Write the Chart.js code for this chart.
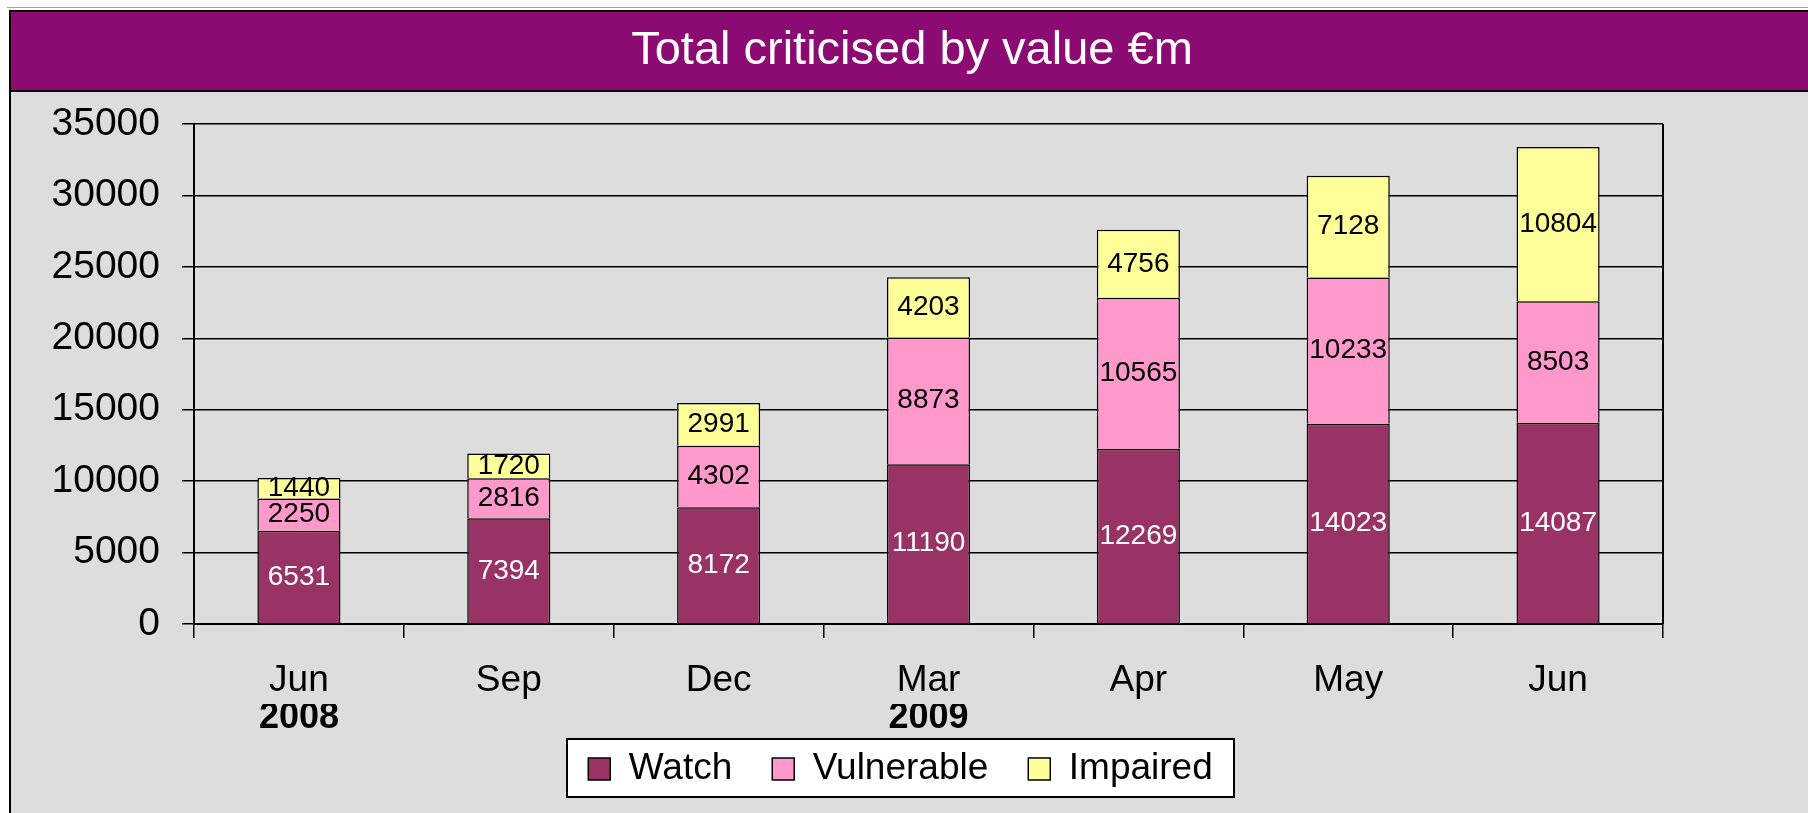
<!DOCTYPE html>
<html>
<head>
  <meta charset="UTF-8">
  <title>Total criticised by value €m</title>
  <script src="https://cdn.jsdelivr.net/npm/chart.js@4.4.0/dist/chart.umd.min.js"></script>
  <style>
    html, body { margin: 0; padding: 0; background: #fff; overflow: hidden; }
    canvas { display: block; }
  </style>
</head>
<body>
<canvas id="myChart" width="1808" height="813"></canvas>
<script>
  // values, EUR m
  var titleText = "Total criticised by value €m";
  var months = ["Jun", "Sep", "Dec", "Mar", "Apr", "May", "Jun"];
  var years = ["2008", "", "", "2009", "", "", ""];
  var watch = [6531, 7394, 8172, 11190, 12269, 14023, 14087];
  var vulnerable = [2250, 2816, 4302, 8873, 10565, 10233, 8503];
  var impaired = [1440, 1720, 2991, 4203, 4756, 7128, 10804];
  var yMin = 0, yMax = 35000, yStep = 5000;

  var FONT = "'Liberation Sans', Arial, sans-serif";
  var legendBox = { x: 567, y: 739, w: 667, h: 58 };

  Chart.defaults.font.family = FONT;
  Chart.defaults.color = "#000";

  // frame, purple header, title, legend box, value labels
  var framePlugin = {
    id: "frame",
    afterLayout: function(chart) {
      // put the legend inside its white box, with some slack so it stays on one row
      var lg = chart.legend;
      lg.left = legendBox.x - 25; lg.right = legendBox.x + legendBox.w + 25;
      lg.width = lg.right - lg.left;
      lg.top = 710.5; lg.bottom = 805; lg.height = lg.bottom - lg.top;
    },
    beforeDraw: function(chart) {
      var ctx = chart.ctx, w = chart.width, h = chart.height;
      ctx.save();
      ctx.fillStyle = "#fff";
      ctx.fillRect(0, 0, w, h);
      ctx.fillStyle = "#dddddd";
      ctx.fillRect(10, 11, w, h);
      ctx.fillStyle = "#8c0b72";
      ctx.fillRect(10, 11, w, 80);
      ctx.fillStyle = "#a0a0a0";
      ctx.fillRect(7, 7, w, 1);
      ctx.fillStyle = "#000";
      ctx.fillRect(9, 10, w, 2);
      ctx.fillRect(9, 10, 2, h);
      ctx.fillRect(9, 90, w, 2);

      ctx.fillStyle = "#fff";
      ctx.font = "47px " + FONT;
      ctx.textAlign = "center";
      ctx.textBaseline = "middle";
      ctx.fillText(titleText, 912, 51);

      ctx.fillStyle = "#fff";
      ctx.fillRect(legendBox.x, legendBox.y, legendBox.w, legendBox.h);
      ctx.strokeStyle = "#000";
      ctx.lineWidth = 2;
      ctx.strokeRect(legendBox.x, legendBox.y, legendBox.w, legendBox.h);
      ctx.restore();
    },
    afterDatasetsDraw: function(chart) {
      var ctx = chart.ctx;
      ctx.save();
      ctx.font = "28px " + FONT;
      ctx.textAlign = "center";
      ctx.textBaseline = "middle";
      chart.data.datasets.forEach(function(ds, i) {
        var meta = chart.getDatasetMeta(i);
        meta.data.forEach(function(bar, j) {
          var p = bar.getProps(["x", "y", "base"], true);
          ctx.fillStyle = ds.labelColor;
          ctx.fillText(String(ds.data[j]), p.x, (p.y + p.base) / 2);
        });
      });
      ctx.restore();
    },
    afterDraw: function(chart) {
      // right edge of the plot box
      var ctx = chart.ctx, a = chart.chartArea;
      ctx.save();
      ctx.strokeStyle = "#000";
      ctx.lineWidth = 2;
      ctx.beginPath();
      ctx.moveTo(a.right, a.top);
      ctx.lineTo(a.right, a.bottom);
      ctx.stroke();
      ctx.restore();
    }
  };

  new Chart(document.getElementById("myChart"), {
    type: "bar",
    data: {
      labels: months,
      datasets: [
        { label: "Watch", data: watch, backgroundColor: "#993366", labelColor: "#fff" },
        { label: "Vulnerable", data: vulnerable, backgroundColor: "#ff99cc", labelColor: "#000" },
        { label: "Impaired", data: impaired, backgroundColor: "#ffff99", labelColor: "#000" }
      ].map(function(d) {
        d.borderColor = "#000";
        d.borderWidth = 1.5;
        d.categoryPercentage = 1;
        d.barPercentage = 0.396;
        return d;
      })
    },
    options: {
      responsive: false,
      animation: false,
      layout: { padding: { left: 20, right: 145, top: 124, bottom: 9 } },
      plugins: {
        title: { display: false },
        tooltip: { enabled: false },
        legend: {
          position: "bottom",
          maxHeight: 60,
          labels: {
            font: { size: 37 },
            color: "#000",
            boxWidth: 22,
            boxHeight: 22,
            padding: 40
          }
        }
      },
      scales: {
        x: {
          type: "category",
          stacked: true,
          offset: true,
          grid: { offset: true, drawOnChartArea: false, drawTicks: true, tickLength: 14, color: "#000", lineWidth: 1.5 },
          border: { color: "#000", width: 2 },
          ticks: { font: { size: 37 }, color: "#000", padding: 21, autoSkip: false, maxRotation: 0 },
          afterFit: function(s) { s.height = 80; }
        },
        x2: {
          type: "category",
          labels: years,
          position: "bottom",
          offset: true,
          grid: { display: false, drawTicks: false },
          border: { display: false },
          ticks: { font: { size: 36, weight: "bold", lineHeight: 1 }, color: "#000", padding: -4, autoSkip: false, maxRotation: 0 },
          afterFit: function(s) { s.height = 40; }
        },
        y: {
          stacked: true,
          min: yMin,
          max: yMax,
          ticks: {
            stepSize: yStep,
            font: { size: 39 },
            color: "#000",
            padding: 22,
            callback: function(v) { return String(v); }
          },
          grid: { color: "#000", lineWidth: 1.5, tickLength: 12 },
          border: { color: "#000", width: 2 },
          afterFit: function(s) { s.width = 174; }
        }
      }
    },
    plugins: [framePlugin]
  });
</script>
</body>
</html>
